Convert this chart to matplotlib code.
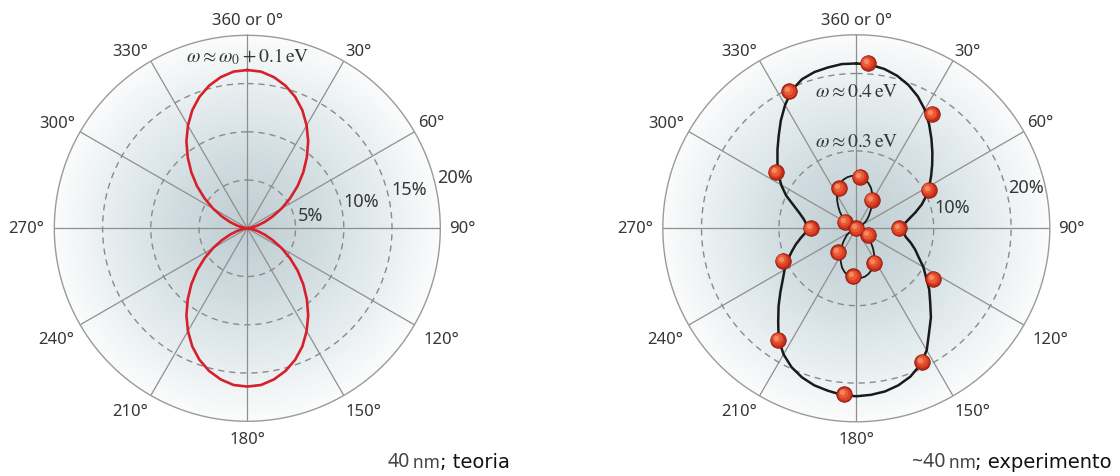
import numpy as np
import matplotlib
matplotlib.use("Agg")
import matplotlib.pyplot as plt
from matplotlib.colors import LinearSegmentedColormap
from matplotlib import transforms
from matplotlib.text import Annotation

# ---------------------------------------------------------------- data
# sampled polar angle (degrees, clockwise from north), 5 degree steps
sample_deg = list(range(0, 360, 5))

# theory, 40 nm, omega ~ omega0 + 0.1 eV  (percent)
theory_r = [16.4, 16.3, 15.9, 15.3, 14.5, 13.5, 12.3, 11.0, 9.6, 8.2, 6.8, 5.4,
            4.1, 2.9, 1.9, 1.1, 0.5, 0.1, 0.0, 0.1, 0.5, 1.1, 1.9, 2.9,
            4.1, 5.4, 6.8, 8.2, 9.6, 11.0, 12.3, 13.5, 14.5, 15.3, 15.9, 16.3,
            16.4, 16.3, 15.9, 15.3, 14.5, 13.5, 12.3, 11.0, 9.6, 8.2, 6.8, 5.4,
            4.1, 2.9, 1.9, 1.1, 0.5, 0.1, 0.0, 0.1, 0.5, 1.1, 1.9, 2.9,
            4.1, 5.4, 6.8, 8.2, 9.6, 11.0, 12.3, 13.5, 14.5, 15.3, 15.9, 16.3]

# experiment, fitted curve at omega ~ 0.4 eV (percent)
fit_04_r = [21.3, 21.2, 20.9, 20.4, 19.7, 18.8, 17.7, 16.4, 15.1, 13.9, 12.8, 11.8,
            10.9, 10.0, 9.0, 7.9, 6.9, 6.2, 5.9, 6.1, 6.5, 7.3, 8.1, 8.9,
            10.0, 11.0, 12.3, 13.5, 15.0, 16.4, 18.2, 19.5, 20.4, 21.0, 21.4, 21.6,
            21.7, 21.6, 21.3, 21.0, 20.5, 19.8, 18.8, 17.5, 15.7, 14.2, 12.8, 11.6,
            10.7, 9.8, 8.9, 8.1, 7.3, 6.6, 6.1, 6.5, 6.9, 7.6, 8.6, 10.0,
            11.2, 12.3, 13.3, 14.4, 15.6, 17.0, 18.4, 19.7, 20.5, 20.9, 21.1, 21.3]

# experiment, fitted curve at omega ~ 0.3 eV (percent)
fit_03_r = [6.8, 6.7, 6.4, 6.05, 5.55, 4.9, 4.2, 3.5, 2.8, 2.3, 1.85, 1.4,
            0.85, 0.3, 0.0, 0.0, 0.0, 0.0, 0.0, 0.0, 0.0, 0.0, 0.3, 0.8,
            1.35, 1.75, 2.2, 2.7, 3.35, 4.0, 4.65, 5.3, 5.75, 6.1, 6.35, 6.45,
            6.45, 6.4, 6.2, 5.85, 5.4, 4.75, 4.1, 3.4, 2.85, 2.3, 1.8, 1.45,
            0.95, 0.4, 0.0, 0.0, 0.0, 0.0, 0.0, 0.0, 0.0, 0.0, 0.4, 1.0,
            1.5, 1.9, 2.4, 3.0, 3.6, 4.3, 5.0, 5.7, 6.15, 6.5, 6.7, 6.8]

# measured points
pts_04_theta = [3.9, 33.5, 61.9, 90.0, 123.2, 153.7, 184.1, 215.2, 246.3, 270.0, 305.1, 333.9]
pts_04_r = [21.4, 17.7, 10.6, 5.5, 11.9, 19.2, 21.5, 17.6, 10.4, 5.9, 12.7, 19.7]
pts_03_theta = [4.0, 28.1, 119.0, 152.6, 183.6, 216.9, 300.5, 337.0, 0.0]
pts_03_r = [6.7, 4.2, 1.8, 5.0, 6.2, 3.9, 1.7, 5.6, 0.0]

angle_ticks = [0, 30, 60, 90, 120, 150, 180, 210, 240, 270, 300, 330]
angle_labels = ["360 or 0°", "30°", "60°", "90°", "120°", "150°",
                "180°", "210°", "240°", "270°", "300°", "330°"]

left_rings = [5, 10, 15]
left_rmax = 20
left_ring_labels = ["5%", "10%", "15%", "20%"]
right_rings = [10, 20]
right_rmax = 25
right_ring_labels = ["10%", "20%"]

# ---------------------------------------------------------------- figure
W, H = 1120, 477
fig = plt.figure(figsize=(W / 100, H / 100), dpi=100)
fig.patch.set_facecolor("white")

bg_cmap = LinearSegmentedColormap.from_list(
    "halo", [(0.0, "#bfcdd2"), (0.35, "#cfdbdf"), (0.7, "#e6edef"), (1.0, "#fbfcfc")])

GRID = "#8f8f8f"
LABEL_FONT = "Noto Sans"
TEXT_COL = "#363636"

# label centres: (angle deg, distance from centre in px)
label_place = [(0, 208.6), (32, 209.5), (60, 212.7), (90, 215.0), (119.7, 223.7),
               (147.5, 216.2), (180, 210.7), (212.7, 216.9), (240, 220.4),
               (270, 221.0), (299, 217.8), (326.6, 212.8)]


def make_polar(cx, cy, radius_px, rmax, rings):
    ax = fig.add_axes([(cx - radius_px) / W, (H - cy - radius_px) / H,
                       2 * radius_px / W, 2 * radius_px / H], projection="polar")
    ax.set_theta_zero_location("N")
    ax.set_theta_direction(-1)
    ax.set_ylim(0, rmax)
    ax.set_axis_off()

    tt, rr = np.meshgrid(np.linspace(0, 2 * np.pi, 241), np.linspace(0, rmax, 150))
    ax.pcolormesh(tt, rr, rr / rmax, cmap=bg_cmap, vmin=0, vmax=1,
                  shading="gouraud", zorder=0, rasterized=True)

    full = np.linspace(0, 2 * np.pi, 721)
    for a in angle_ticks:
        ax.plot([np.radians(a)] * 2, [0, rmax], color=GRID, lw=0.9, zorder=1)
    for rg in rings:
        ax.plot(full, np.full_like(full, rg), color="#8a8a8a", lw=1.0,
                ls=(0, (4.5, 3.5)), zorder=1)
    ax.plot(full, np.full_like(full, rmax), color="#9a9a9a", lw=1.0, zorder=1,
            clip_on=False)

    scale = rmax / radius_px
    for (ang, dist), lab in zip(label_place, angle_labels):
        ax.text(np.radians(ang), dist * scale, lab, ha="center", va="center",
                fontsize=12, family=LABEL_FONT, color=TEXT_COL, clip_on=False)
    return ax, scale


def closed(vals):
    th = np.radians(sample_deg + [360])
    return th, np.asarray(list(vals) + [vals[0]])


def spheres(ax, theta_deg, r):
    th = np.radians(theta_deg)
    ax.scatter(th, r, s=125, color="#c02c1a", edgecolor="#8e1c10", linewidth=0.6,
               zorder=5, clip_on=False)
    for dx, s, col in [(-0.6, 82, "#dd4226"), (-1.2, 46, "#ea5c36"), (-2.0, 14, "#f38a66")]:
        tr = transforms.offset_copy(ax.transData, fig=fig, x=dx, y=-dx, units="dots")
        ax.scatter(th, r, s=s, color=col, linewidth=0, zorder=6, transform=tr,
                   clip_on=False)


# ---- left: theory
axL, sL = make_polar(247.3, 229.3, 193, left_rmax, left_rings)
th, rv = closed(theory_r)
axL.plot(th, rv, color="#d7202a", lw=1.9, zorder=4)
for lab, (ang, dist) in zip(left_ring_labels,
                            [(77.7, 64.7), (76.8, 117.5), (76.4, 166.9), (76.0, 214.0)]):
    axL.text(np.radians(ang), dist * sL, lab, ha="center", va="center",
             fontsize=13, family=LABEL_FONT, color=TEXT_COL, clip_on=False)
axL.text(0, 172.6 * sL, r"$\omega \approx \omega_0 + 0.1\,\mathrm{eV}$",
         ha="center", va="center", fontsize=14, color=TEXT_COL,
         math_fontfamily="stix")

# ---- right: experiment
axR, sR = make_polar(856.3, 229.3, 193.5, right_rmax, right_rings)
th, rv = closed(fit_04_r)
axR.plot(th, rv, color="#1a1a1a", lw=1.8, zorder=4)
th, rv = closed(fit_03_r)
axR.plot(th, rv, color="#1a1a1a", lw=1.3, zorder=4)
spheres(axR, pts_04_theta, pts_04_r)
spheres(axR, pts_03_theta, pts_03_r)
for lab, (ang, dist) in zip(right_ring_labels, [(77.6, 97.7), (76.4, 174.4)]):
    axR.text(np.radians(ang), dist * sR, lab, ha="center", va="center",
             fontsize=13, family=LABEL_FONT, color=TEXT_COL, clip_on=False)
axR.text(0, 137.6 * sR, r"$\omega \approx 0.4\,\mathrm{eV}$", ha="center", va="center",
         fontsize=14, color=TEXT_COL, math_fontfamily="stix")
axR.text(0, 87.6 * sR, r"$\omega \approx 0.3\,\mathrm{eV}$", ha="center", va="center",
         fontsize=14, color=TEXT_COL, math_fontfamily="stix")


# ---- captions
def caption(x_px, size_txt, rest):
    t1 = fig.text(x_px / W, (H - 472) / H, size_txt, fontsize=14, family=LABEL_FONT,
                  color="#444444", va="bottom", ha="left")
    a2 = fig.add_artist(Annotation(
        "\u2009nm", xy=(1, 0), xycoords=t1, va="bottom", ha="left",
        fontsize=12.5, family=LABEL_FONT, color="#444444"))
    fig.add_artist(Annotation(
        rest, xy=(1, 0), xycoords=a2, va="bottom", ha="left",
        fontsize=14, family="DejaVu Sans", color="#111111"))


caption(388, "40", "; teoria")
caption(912, "~40", "; experimento")

fig.savefig("out.png", dpi=100, facecolor="white")
